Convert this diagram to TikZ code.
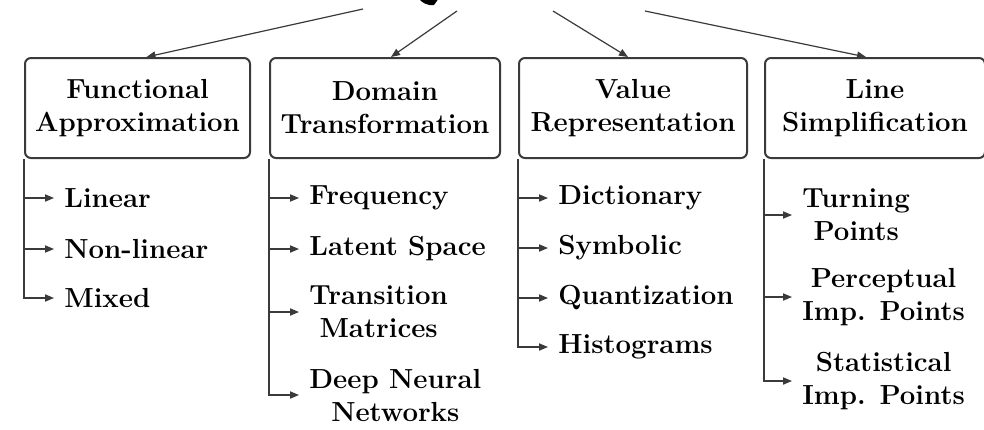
\documentclass[tikz,border=0pt]{standalone}
\usepackage{tikz}
\usetikzlibrary{arrows.meta,positioning}
\definecolor{lineg}{HTML}{3A3A3A}
\tikzset{
  catbox/.style={draw=lineg, line width=1pt, rounded corners=3pt, align=center, font=\fontsize{13.8}{16.5}\selectfont\bfseries, inner xsep=4pt, minimum height=50pt},
  subitem/.style={align=center, font=\fontsize{13.8}{16.5}\selectfont\bfseries, inner xsep=5pt, inner ysep=2pt},
  tarr/.style={-{Triangle[length=4.5pt,width=3.6pt]}, draw=lineg, line width=0.6pt}
}
\begin{document}
\begin{tikzpicture}
\useasboundingbox (0,0) rectangle (492pt,-214.5pt);
% cut-off root at the top
\fill[black] (209pt,1pt) .. controls (211pt,-1.5pt) and (214pt,-3pt) .. (217pt,-2.5pt) -- (219.5pt,1pt) -- cycle;
\coordinate (r1) at (181.5pt,-4.5pt);
\coordinate (r2) at (228.5pt,-5.5pt);
\coordinate (r3) at (276.5pt,-5.5pt);
\coordinate (r4) at (322.5pt,-5.5pt);
% categories
\node[catbox, minimum width=112.5pt, anchor=north west] (b1) at (12pt,-28.5pt) {Functional\\Approximation};
\node[catbox, minimum width=115pt, right=9pt of b1] (b2) {Domain\\Transformation};
\node[catbox, minimum width=114pt, right=8.5pt of b2] (b3) {Value\\Representation};
\node[catbox, minimum width=110pt, right=8pt of b3] (b4) {Line\\Simplification};
\draw[tarr] (r1)--([xshift=4.5pt]b1.north);
\draw[tarr] (r2)--([xshift=3pt]b2.north);
\draw[tarr] (r3)--([xshift=-2.5pt]b3.north);
\draw[tarr] (r4)--([xshift=-4.5pt]b4.north);
% functional approximation
\node[subitem, below right=19.5pt and 15pt of b1.south west, anchor=west] (i11) {Linear};
\node[subitem, below=25.5pt of i11.west, anchor=west] (i12) {Non-linear};
\node[subitem, below=24.5pt of i12.west, anchor=west] (i13) {Mixed};
\draw[tarr] (b1.south west |- i11.west)--(i11.west);
\draw[tarr] (b1.south west |- i12.west)--(i12.west);
\draw[tarr] (b1.south west) |- (i13.west);
% domain transformation
\node[subitem, below right=19.5pt and 15pt of b2.south west, anchor=west] (i21) {Frequency};
\node[subitem, below=25.5pt of i21.west, anchor=west] (i22) {Latent Space};
\node[subitem, below=31.5pt of i22.west, anchor=west] (i23) {Transition\\Matrices};
\node[subitem, below=41.5pt of i23.west, anchor=west] (i24) {Deep Neural\\Networks};
\draw[tarr] (b2.south west |- i21.west)--(i21.west);
\draw[tarr] (b2.south west |- i22.west)--(i22.west);
\draw[tarr] (b2.south west |- i23.west)--(i23.west);
\draw[tarr] (b2.south west) |- (i24.west);
% value representation
\node[subitem, below right=19.5pt and 15pt of b3.south west, anchor=west] (i31) {Dictionary};
\node[subitem, below=25pt of i31.west, anchor=west] (i32) {Symbolic};
\node[subitem, below=25pt of i32.west, anchor=west] (i33) {Quantization};
\node[subitem, below=24.5pt of i33.west, anchor=west] (i34) {Histograms};
\draw[tarr] (b3.south west |- i31.west)--(i31.west);
\draw[tarr] (b3.south west |- i32.west)--(i32.west);
\draw[tarr] (b3.south west |- i33.west)--(i33.west);
\draw[tarr] (b3.south west) |- (i34.west);
% line simplification
\node[subitem, below right=28pt and 14pt of b4.south west, anchor=west] (i41) {Turning\\Points};
\node[subitem, below=41pt of i41.west, anchor=west] (i42) {Perceptual\\Imp. Points};
\node[subitem, below=42pt of i42.west, anchor=west] (i43) {Statistical\\Imp. Points};
\draw[tarr] (b4.south west |- i41.west)--(i41.west);
\draw[tarr] (b4.south west |- i42.west)--(i42.west);
\draw[tarr] (b4.south west) |- (i43.west);
\end{tikzpicture}
\end{document}
